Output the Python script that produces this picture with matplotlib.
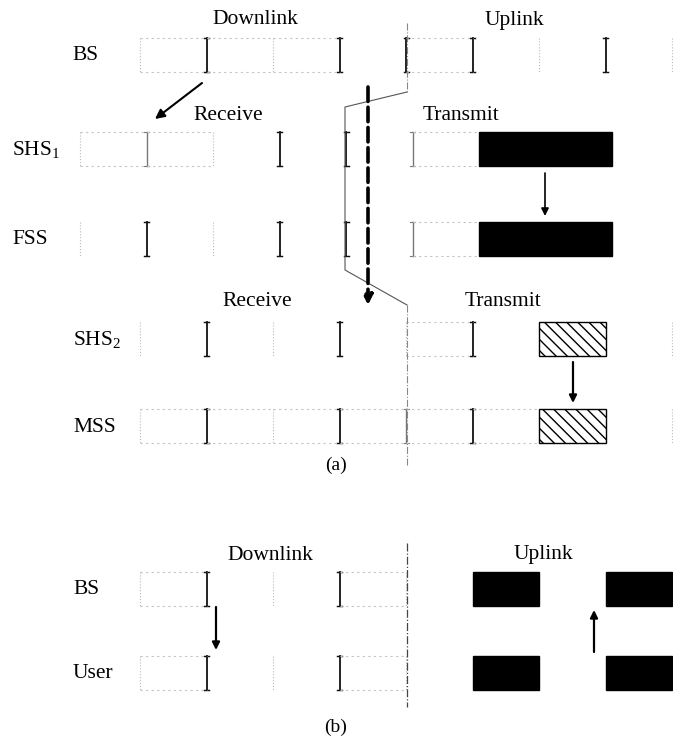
import matplotlib
matplotlib.use("Agg")
import matplotlib.pyplot as plt
from matplotlib.patches import Rectangle

plt.rcParams['font.family'] = 'Liberation Serif'
plt.rcParams['mathtext.fontset'] = 'custom'
plt.rcParams['mathtext.rm'] = 'Liberation Serif'
plt.rcParams['mathtext.it'] = 'Liberation Serif:italic'
plt.rcParams['hatch.linewidth'] = 1.0

# frame timing diagram: (a) relay scheme, (b) plain TDD
SLOT = 66.5
BOX_H = 34

# (a) rows
names_a = ['BS', 'SHS$_1$', 'FSS', 'SHS$_2$', 'MSS']
label_x_a = [72, 12, 12, 73, 73]
tops_a = [38, 132, 222, 322, 409]
starts_a = [140, 80, 80, 140, 140]
# edge styles per slot boundary: d = dark, m = medium, f = faint, - = none
edges_a = ['fdfdddfdf', 'fmfddm---', 'fdfddm---', 'fdfdfd--f', 'fdfdmd--f']
black_a = [[], [6, 7], [6, 7], [], []]
hatch_a = [[], [], [], [6], [6]]
faint_a = [[0, 1, 2, 4], [0, 1, 5], [5], [4], [0, 1, 2, 3, 4, 5]]

# (b) rows
names_b = ['BS', 'User']
label_x_b = [73, 73]
tops_b = [572, 656]
starts_b = [140, 140]
edges_b = ['fdfdf----', 'fdfdf----']
black_b = [[5], [5]]
black2_b = [[7], [7]]
faint_b = [[0, 3], [0, 3]]

fig = plt.figure(figsize=(6.73, 7.47), dpi=100)
ax = fig.add_axes([0, 0, 1, 1])
ax.set_xlim(0, 673)
ax.set_ylim(747, 0)
ax.axis('off')

edge_style = {'d': ('#111111', 1.3, '-'), 'm': ('#777777', 1.0, '-'), 'f': ('#bbbbbb', 0.8, ':')}


def draw_edge(x, top, style):
    col, lw, ls = edge_style[style]
    bot = top + BOX_H
    ax.plot([x, x], [top, bot], color=col, lw=lw, ls=ls)
    if style != 'f':
        ax.plot([x - 2.5, x + 2.5], [top, top], color=col, lw=lw * 0.8)
        ax.plot([x - 2.5, x + 2.5], [bot, bot], color=col, lw=lw * 0.8)


def draw_block(start, top, slots, hatched=False):
    # consecutive slots become one rectangle
    x0 = start + min(slots) * SLOT
    w = (max(slots) - min(slots) + 1) * SLOT
    if hatched:
        ax.add_patch(Rectangle((x0, top), w, BOX_H, facecolor='white',
                               edgecolor='black', lw=1.0, hatch='\\\\\\'))
    else:
        ax.add_patch(Rectangle((x0, top), w, BOX_H, facecolor='black', edgecolor='black'))


def draw_row(name, lx, top, start, edges, faint):
    ax.text(lx, top + BOX_H / 2 + 1, name, fontsize=15.5, ha='left', va='center')
    for i, s in enumerate(edges):
        if s != '-':
            draw_edge(start + i * SLOT, top, s)
    for i in faint:
        x0 = start + i * SLOT
        for y in (top, top + BOX_H):
            ax.plot([x0, x0 + SLOT], [y, y], color='#c4c4c4', lw=0.8, ls=(0, (2, 3)))


for k in range(len(names_a)):
    draw_row(names_a[k], label_x_a[k], tops_a[k], starts_a[k], edges_a[k], faint_a[k])
    if black_a[k]:
        draw_block(starts_a[k], tops_a[k], black_a[k])
    if hatch_a[k]:
        draw_block(starts_a[k], tops_a[k], hatch_a[k], hatched=True)
for k in range(len(names_b)):
    draw_row(names_b[k], label_x_b[k], tops_b[k], starts_b[k], edges_b[k], faint_b[k])
    draw_block(starts_b[k], tops_b[k], black_b[k])
    draw_block(starts_b[k], tops_b[k], black2_b[k])

# headings
fs = 15.5
ax.text(255, 20, 'Downlink', fontsize=fs, ha='center', va='center')
ax.text(514, 20, 'Uplink', fontsize=fs, ha='center', va='center')
ax.text(228, 115, 'Receive', fontsize=fs, ha='center', va='center')
ax.text(461, 115, 'Transmit', fontsize=fs, ha='center', va='center')
ax.text(257, 302, 'Receive', fontsize=fs, ha='center', va='center')
ax.text(503, 302, 'Transmit', fontsize=fs, ha='center', va='center')
ax.text(270, 555, 'Downlink', fontsize=fs, ha='center', va='center')
ax.text(543, 555, 'Uplink', fontsize=fs, ha='center', va='center')
ax.text(336, 465, '(a)', fontsize=14, ha='center', va='center')
ax.text(336, 727, '(b)', fontsize=14, ha='center', va='center')

# downlink / uplink boundary
gray = '#888888'
ax.plot([407, 407], [23, 92], color=gray, lw=0.8, ls='-.')
ax.plot([407, 345, 345, 407], [92, 107, 270, 305], color='#555555', lw=0.8)
ax.plot([407, 407], [305, 465], color=gray, lw=0.8, ls='-.')
ax.plot([407, 407], [543, 707], color='#444444', lw=0.9, ls='-.')

# arrows
arrow = dict(arrowstyle='-|>', color='black', lw=1.5, mutation_scale=14, shrinkA=0, shrinkB=0)
ax.annotate('', xy=(155, 119), xytext=(202, 83), arrowprops=arrow)
ax.annotate('', xy=(368, 305), xytext=(368, 87),
            arrowprops=dict(arrowstyle='-|>', color='black', lw=2.6, ls=(0, (4, 1.6)),
                            mutation_scale=14, shrinkA=0, shrinkB=0))
thin = dict(arrowstyle='-|>', color='black', lw=1.2, mutation_scale=11, shrinkA=0, shrinkB=0)
ax.annotate('', xy=(545, 216), xytext=(545, 173), arrowprops=thin)
ax.annotate('', xy=(573, 403), xytext=(573, 362), arrowprops=dict(thin, lw=1.6))
ax.annotate('', xy=(216, 650), xytext=(216, 607), arrowprops=dict(thin, lw=1.6))
ax.annotate('', xy=(594, 610), xytext=(594, 652), arrowprops=dict(thin, lw=1.6))

fig.savefig('out.png', dpi=100, facecolor='white')
